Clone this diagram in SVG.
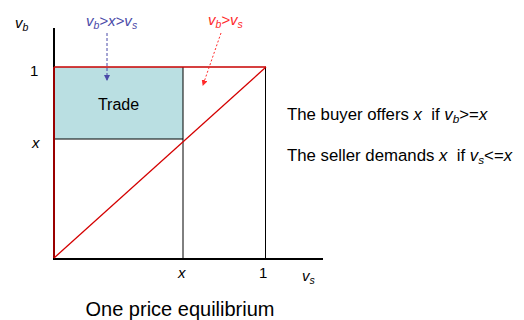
<svg xmlns="http://www.w3.org/2000/svg" width="524" height="320" viewBox="0 0 524 320">
<defs>
<style>
text{font-family:"Liberation Sans",Arial,sans-serif;fill:#000}
.it{font-style:italic}
.sub{font-size:70%}
.blue{fill:#4a4aa8}
.red{fill:#ff2a2a}
.pre{white-space:pre}
</style>
<marker id="ab" viewBox="0 0 6 6" refX="5" refY="3" markerWidth="6" markerHeight="6" orient="auto" markerUnits="userSpaceOnUse"><path d="M0,0 L6,3 L0,6 z" fill="#4a4aa8"/></marker>
<marker id="ar" viewBox="0 0 6 6" refX="5" refY="3" markerWidth="6" markerHeight="6" orient="auto" markerUnits="userSpaceOnUse"><path d="M0,0 L6,3 L0,6 z" fill="#ff2a2a"/></marker>
</defs>
<rect width="524" height="320" fill="#fff"/>
<g id="trade">
<rect x="54" y="67" width="129" height="72" fill="#badfe2"/>
<text x="118.5" y="110" font-size="16" text-anchor="middle">Trade</text>
</g>
<g id="axes">
<line x1="54" y1="28" x2="54" y2="68" stroke="#000" stroke-width="2"/>
<line x1="53" y1="259" x2="323" y2="259" stroke="#000" stroke-width="2"/>
<line x1="183" y1="67" x2="183" y2="259" stroke="#000" stroke-width="1"/>
<line x1="265.5" y1="67" x2="265.5" y2="259" stroke="#000" stroke-width="1"/>
<line x1="54" y1="139" x2="183" y2="139" stroke="#000" stroke-width="1"/>
<line x1="54" y1="67" x2="54" y2="258" stroke="#990000" stroke-width="2"/>
<line x1="54" y1="67" x2="266" y2="67" stroke="#c80000" stroke-width="1.5"/>
<line x1="54" y1="258" x2="266" y2="67" stroke="#d40000" stroke-width="1.3"/>
</g>
<g id="labels">
<text x="15" y="28" font-size="15" class="it">v<tspan class="sub" dy="3">b</tspan></text>
<text x="30" y="76" font-size="15">1</text>
<text x="32" y="148" font-size="15" class="it">x</text>
<text x="178" y="278" font-size="15" class="it">x</text>
<text x="259" y="278" font-size="15">1</text>
<text x="302" y="281" font-size="15" class="it">v<tspan class="sub" dy="3">s</tspan></text>
<text x="287" y="120" font-size="16.8" class="pre">The buyer offers <tspan class="it">x</tspan>  if <tspan class="it">v<tspan class="sub" dy="3">b</tspan></tspan><tspan dy="-3">&gt;=</tspan><tspan class="it">x</tspan></text>
<text x="287" y="161" font-size="16.8" class="pre">The seller demands <tspan class="it">x</tspan>  if <tspan class="it">v<tspan class="sub" dy="3">s</tspan></tspan><tspan dy="-3">&lt;=</tspan><tspan class="it">x</tspan></text>
<text x="180" y="316" font-size="20" text-anchor="middle">One price equilibrium</text>
</g>
<g id="region-blue">
<text x="86" y="26" font-size="15" class="it blue">v<tspan class="sub" dy="3">b</tspan><tspan dy="-3">&gt;x&gt;v</tspan><tspan class="sub" dy="3">s</tspan></text>
</g>
<g id="region-red">
<text x="208" y="25" font-size="15" class="it red">v<tspan class="sub" dy="3">b</tspan><tspan dy="-3">&gt;v</tspan><tspan class="sub" dy="3">s</tspan></text>
</g>
<g id="connectors">
<line x1="107" y1="33" x2="107" y2="80" stroke="#4a4aa8" stroke-width="1" stroke-dasharray="3,2" marker-end="url(#ab)"/>
<line x1="221" y1="33" x2="203" y2="85" stroke="#ff2a2a" stroke-width="1" stroke-dasharray="2,2" marker-end="url(#ar)"/>
</g>
</svg>
